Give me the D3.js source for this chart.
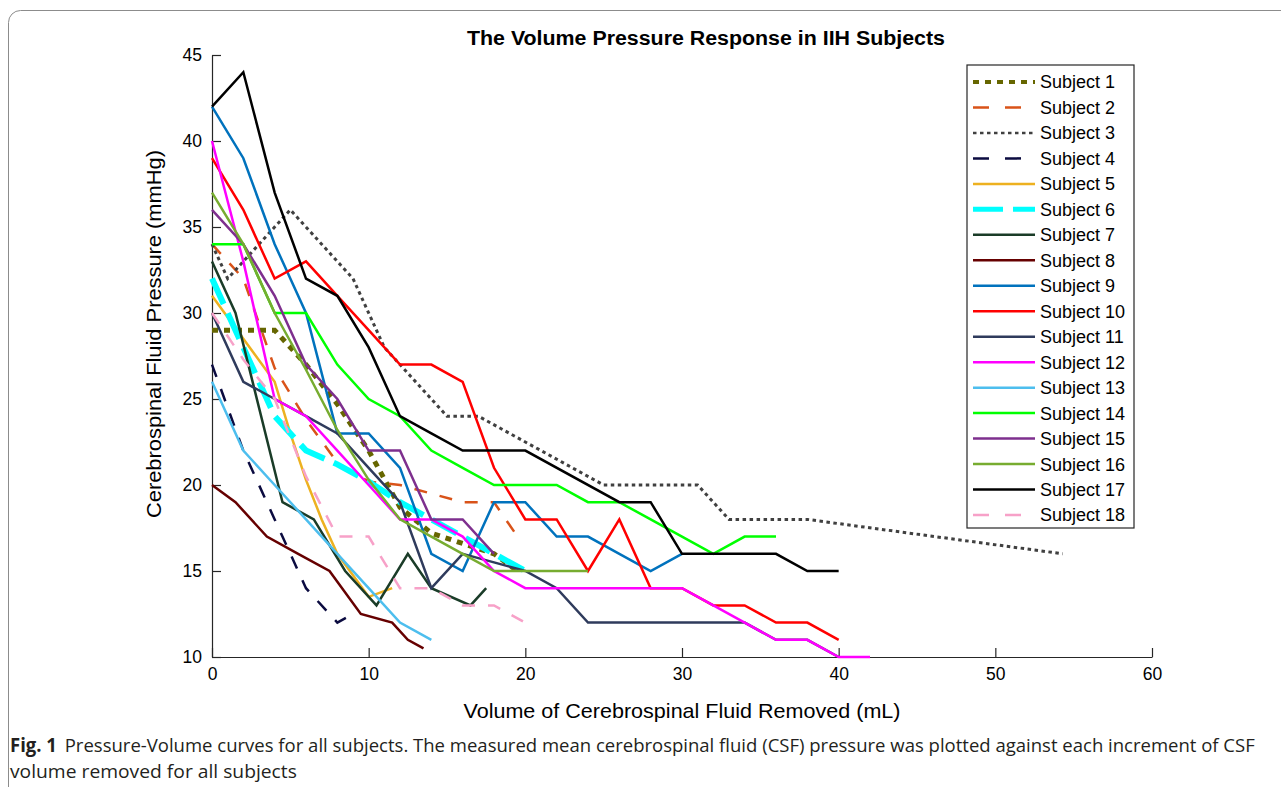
<!DOCTYPE html>
<html><head><meta charset="utf-8">
<script src="https://cdn.jsdelivr.net/npm/d3@7"></script>
<style>
html,body{margin:0;padding:0;background:#fff;}
svg{display:block;font-family:"Liberation Sans",Arial,sans-serif;}
</style></head>
<body>
<svg id="chart" width="1281" height="787"></svg>
<script>
// ---- data ----
const subjectNames = ["Subject 1","Subject 2","Subject 3","Subject 4","Subject 5","Subject 6","Subject 7","Subject 8","Subject 9","Subject 10","Subject 11","Subject 12","Subject 13","Subject 14","Subject 15","Subject 16","Subject 17","Subject 18"];
const s1  = [[0,29],[2,29],[4,29],[6,27],[8,24.7],[10,22],[12,18.7],[14,17.2],[16,16.6],[18,16],[19.5,15]];
const s2  = [[0,34],[2,32],[4,26.8],[6,23.8],[8,21.3],[10,20.2],[12,20],[14,19.5],[16,19],[18,19],[19.5,17]];
const s3  = [[0,34],[1,32],[5,36],[7,34],[9,32],[11,28],[15,24],[17,24],[25,20],[31,20],[33,18],[38,18],[54.3,16]];
const s4  = [[0,27],[2,22],[4,18],[6,14],[8,12],[9,12.5]];
const s5  = [[0,31],[2,28.5],[4,26],[5,23],[6,20.3],[7,18],[8,16],[10,13.5],[11.5,14]];
const s6  = [[0,32],[2,28],[4,24],[6,22],[8,21.2],[10,20.2],[12,19],[14,18],[16,17],[18,16],[20,15]];
const s7  = [[0,33],[1.5,30],[4.5,19],[6.5,18],[8.5,15],[10.5,13],[12.5,16],[14,14],[16.5,13],[17.5,14]];
const s8  = [[0,20],[1.5,19],[3.5,17],[5.5,16],[7.5,15],[9.5,12.5],[11.5,12],[12.5,11],[13.5,10.5]];
const s9  = [[0,42],[2,39],[4,34],[6,30],[8,23],[10,23],[12,21],[14,16],[16,15],[18,19],[20,19],[22,17],[24,17],[26,16],[28,15],[30,16]];
const s10 = [[0,39],[2,36],[4,32],[6,33],[8,31],[10,29],[12,27],[14,27],[16,26],[18,21],[20,18],[22,18],[24,15],[26,18],[28,14],[30,14],[32,13],[34,13],[36,12],[38,12],[40,11]];
const s11 = [[0,30],[2,26],[4,25],[6,24],[8,23],[10,21],[12,19],[14,14],[16,16],[18,15.5],[20,15],[22,14],[24,12],[26,12],[28,12],[30,12],[32,12],[34,12],[36,11],[38,11],[40,10]];
const s12 = [[0,40],[2,33],[4,25],[6,24],[8,22],[10,20],[12,18],[14,18],[16,17],[18,15],[20,14],[22,14],[24,14],[26,14],[28,14],[30,14],[32,13],[34,12],[36,11],[38,11],[40,10],[42,10]];
const s13 = [[0,26],[2,22],[4,20],[6,18],[8,16],[10,14],[12,12],[14,11]];
const s14 = [[0,34],[2,34],[4,30],[6,30],[8,27],[10,25],[12,24],[14,22],[16,21],[18,20],[20,20],[22,20],[24,19],[26,19],[28,18],[30,17],[32,16],[34,17],[36,17]];
const s15 = [[0,36],[2,34],[4,31],[6,27],[8,25],[10,22],[12,22],[14,18],[16,18],[18,16]];
const s16 = [[0,37],[2,34],[4,30],[6,26.7],[8,23.2],[10,20.3],[12,18],[14,17],[16,16],[18,15],[20,15],[22,15],[24,15]];
const s17 = [[0,42],[2,44],[4,37],[6,32],[8,31],[10,28],[12,24],[14,23],[16,22],[20,22],[26,19],[28,19],[30,16],[36,16],[38,15],[40,15]];
const s18 = [[0,30],[2,27.3],[4,25],[6,20.5],[8,17],[10,17],[12,14],[14,14],[16,13],[18,13],[20,12]];
const seriesData = [s1,s2,s3,s4,s5,s6,s7,s8,s9,s10,s11,s12,s13,s14,s15,s16,s17,s18];
const xTicks = [0,10,20,30,40,50,60];
const yTicks = [10,15,20,25,30,35,40,45];

// ---- styles ----
const colors = ["#666600","#D95319","#404040","#0B0B40","#EDB120","#00FFFF","#1A3C28","#660000","#0072BD","#FF0000","#2F3B5C","#FF00FF","#4DBEEE","#00FF00","#7E2F8E","#77AC30","#000000","#F7A1C8"];
const widths = [5,2.5,3,2.5,2.5,6,2.5,2.5,2.5,2.5,2.5,2.5,2.5,2.5,2.5,2.5,2.5,2.5];
const dashes = ["6,6","13,13","3.5,3.5","13,13",null,"28,10",null,null,null,null,null,null,null,null,null,null,null,"13,13"];
const legendDashes = ["6,6","16,16","3.5,3.5","16,16",null,"30,10",null,null,null,null,null,null,null,null,null,null,null,"16,16"];

const svg = d3.select("#chart");
const L=212,R=1152,T=55,B=657;
const x = d3.scaleLinear().domain([0,60]).range([L,R]);
const y = d3.scaleLinear().domain([10,45]).range([B,T]);

// outer frame
svg.append("rect").attr("x",8.5).attr("y",10.5).attr("width",1300).attr("height",820)
  .attr("rx",12).attr("fill","none").attr("stroke","#8c8c8c").attr("stroke-width",1);

// title
svg.append("text").attr("x",706).attr("y",45).attr("text-anchor","middle")
  .attr("font-weight","bold").attr("font-size",20).attr("fill","#000")
  .attr("textLength",478).attr("lengthAdjust","spacingAndGlyphs")
  .text("The Volume Pressure Response in IIH Subjects");

// axes
const axisColor="#262626";
const gx = svg.append("g").attr("transform",`translate(0,${B})`)
  .call(d3.axisBottom(x).tickValues(xTicks).tickSizeInner(-9).tickSizeOuter(0).tickPadding(12));
const gy = svg.append("g").attr("transform",`translate(${L},0)`)
  .call(d3.axisLeft(y).tickValues(yTicks).tickSizeInner(-9).tickSizeOuter(0).tickPadding(10));
[gx,gy].forEach(g=>{
  g.select(".domain").attr("stroke",axisColor).attr("stroke-width",1.2);
  g.selectAll(".tick line").attr("stroke",axisColor).attr("stroke-width",1.2);
  g.selectAll(".tick text").attr("fill","#000").attr("font-size",17.5)
   .attr("font-family","Liberation Sans, Arial, sans-serif");
});
gx.selectAll(".tick text").attr("dy","0.71em").attr("y",11);

// axis labels
svg.append("text").attr("x",682).attr("y",718).attr("text-anchor","middle")
  .attr("font-size",21).attr("fill","#000")
  .attr("textLength",437).attr("lengthAdjust","spacingAndGlyphs")
  .text("Volume of Cerebrospinal Fluid Removed (mL)");
svg.append("text").attr("transform","translate(161,334) rotate(-90)").attr("text-anchor","middle")
  .attr("font-size",21).attr("fill","#000")
  .attr("textLength",368).attr("lengthAdjust","spacingAndGlyphs")
  .text("Cerebrospinal Fluid Pressure (mmHg)");

// lines
const line = d3.line().x(d=>x(d[0])).y(d=>y(d[1]));
seriesData.forEach((s,i)=>{
  svg.append("path").datum(s).attr("d",line).attr("fill","none")
    .attr("stroke",colors[i]).attr("stroke-width",widths[i])
    .attr("stroke-dasharray",dashes[i]).attr("stroke-linejoin","miter");
});

// legend
const lg = svg.append("g");
lg.append("rect").attr("x",967).attr("y",65).attr("width",167).attr("height",463)
  .attr("fill","#fff").attr("stroke","#262626").attr("stroke-width",1.2);
const ly = d3.scalePoint().domain(subjectNames).range([82,515]);
subjectNames.forEach((n,i)=>{
  const yy = ly(n);
  lg.append("line").attr("x1",973).attr("x2",1035).attr("y1",yy).attr("y2",yy)
    .attr("stroke",colors[i]).attr("stroke-width",widths[i]===6?5:(widths[i]===5?4:2.5))
    .attr("stroke-dasharray",legendDashes[i]);
  lg.append("text").attr("x",1040).attr("y",yy).attr("dy","0.36em").attr("font-size",18)
    .attr("fill","#000").text(n);
});

// caption
const cap = svg.append("text").attr("x",10).attr("y",752).attr("font-size",19)
  .attr("font-family","'Open Sans','Noto Sans',sans-serif").attr("fill","#231f20");
cap.append("tspan").attr("font-weight","bold").text("Fig. 1");
cap.append("tspan").attr("dx",8).text("Pressure-Volume curves for all subjects. The measured mean cerebrospinal fluid (CSF) pressure was plotted against each increment of CSF");
const cap2 = svg.append("text").attr("x",10).attr("y",778).attr("font-size",19)
  .attr("font-family","'Open Sans','Noto Sans',sans-serif").attr("fill","#231f20")
  .text("volume removed for all subjects");
// fit caption widths (condensed face in the original)
(function(){
  const w = cap.node().getComputedTextLength();
  const sc = (1248-10) / w;
  cap.attr("transform",`translate(10,0) scale(${sc},1) translate(-10,0)`);
  const w2 = cap2.node().getComputedTextLength();
  const sc2 = (297-10)/w2;
  cap2.attr("transform",`translate(10,0) scale(${sc2},1) translate(-10,0)`);
})();
</script>
</body></html>
